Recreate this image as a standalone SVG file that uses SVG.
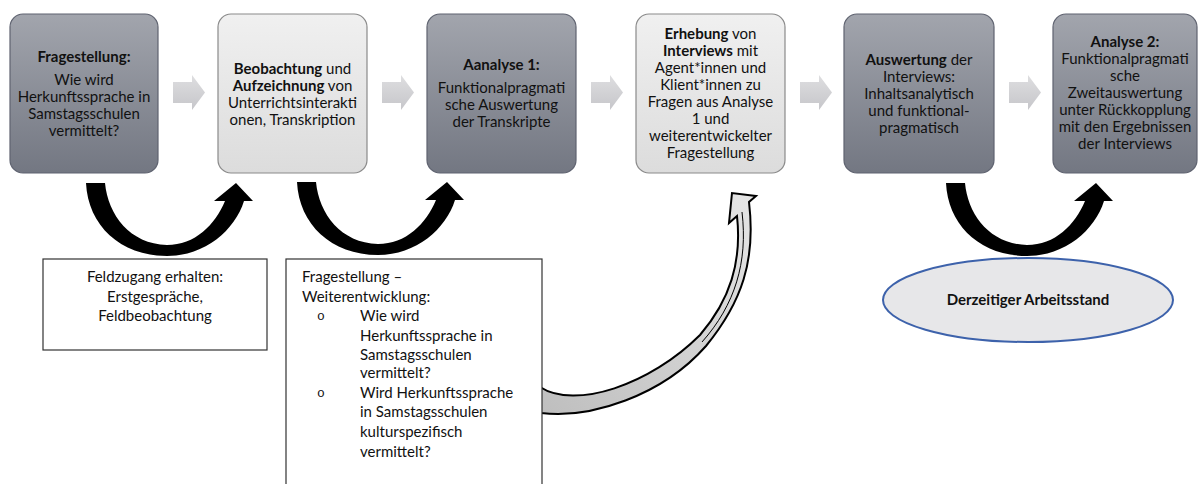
<svg xmlns="http://www.w3.org/2000/svg" xmlns:xlink="http://www.w3.org/1999/xlink" width="1200" height="484" viewBox="0 0 1200 484">
<defs>
<linearGradient id="gDark" x1="0" y1="0" x2="0" y2="1">
<stop offset="0" stop-color="#a2a5ad"/>
<stop offset="1" stop-color="#737782"/>
</linearGradient>
<linearGradient id="gLight" x1="0" y1="0" x2="0" y2="1">
<stop offset="0" stop-color="#f0f0f0"/>
<stop offset="1" stop-color="#dcdcdc"/>
</linearGradient>
<linearGradient id="gChev" x1="0" y1="0" x2="0" y2="1">
<stop offset="0" stop-color="#dedee0"/>
<stop offset="1" stop-color="#c6c6ca"/>
</linearGradient>
<linearGradient id="gCurve" x1="0" y1="1" x2="1" y2="0">
<stop offset="0" stop-color="#bdbdbd"/>
<stop offset="1" stop-color="#e6e6e6"/>
</linearGradient>
<path id="blackArrow" d="M86,183 L105,183 C108,215 130,244 167,245 C195,245 215,225 225,201 L214,201 L236,183 L253,201 L244,201 C235,230 205,256 167,256 C120,256 88,225 86,183 Z"/>
<path id="chev" d="M0,7 H19 V0 L32,17.5 L19,35 V28 H0 Z"/>
</defs>
<style>
.dark{fill:url(#gDark);stroke:#5f6370;stroke-width:1.2}
.light{fill:url(#gLight);stroke:#8a8a8a;stroke-width:1.2}
.t{font-family:Lato,"Liberation Sans",sans-serif;font-size:15px;fill:#111;text-anchor:middle}
.tl{font-family:Lato,"Liberation Sans",sans-serif;font-size:15px;fill:#111}
.b{font-weight:bold}
.bul{font-family:"Liberation Mono",monospace;font-size:13px;fill:#111}
.box{fill:#fff;stroke:#333;stroke-width:1.2}
.chev{fill:url(#gChev)}
.barrow{fill:#000}
</style>
<rect width="1200" height="484" fill="#fff"/>

<g id="connectors">
<use href="#chev" class="chev" transform="translate(173,75)"/>
<use href="#chev" class="chev" transform="translate(382,75)"/>
<use href="#chev" class="chev" transform="translate(591,75)"/>
<use href="#chev" class="chev" transform="translate(800,75)"/>
<use href="#chev" class="chev" transform="translate(1009,75)"/>
<use href="#blackArrow" class="barrow"/>
<use href="#blackArrow" class="barrow" transform="translate(211,-1)"/>
<use href="#blackArrow" class="barrow" transform="translate(860,0)"/>
<path d="M527,401 L540,387 C575,410 650,385 700,335 C730,300 742,262 737,216 L729,223 L732,193 L756,196 L749,202 C756,260 742,302 706,346 C662,396 590,419 541,413 Z" fill="url(#gCurve)" stroke="#000" stroke-width="2" stroke-linejoin="miter"/>
<path d="M742,212 C748,262 735,305 702,342" fill="none" stroke="#000" stroke-width="1"/>
</g>

<g id="node1">
<rect x="10" y="14" width="148" height="159" rx="13" class="dark"/>
<text class="t b" x="84" y="62">Fragestellung:</text>
<text class="t" x="84" y="85">Wie wird</text>
<text class="t" x="84" y="102">Herkunftssprache in</text>
<text class="t" x="84" y="119">Samstagsschulen</text>
<text class="t" x="84" y="136">vermittelt?</text>
</g>

<g id="node2">
<rect x="218" y="14" width="149" height="159" rx="13" class="light"/>
<text class="t" x="292.5" y="74"><tspan class="b">Beobachtung</tspan> und</text>
<text class="t" x="292.5" y="91"><tspan class="b">Aufzeichnung</tspan> von</text>
<text class="t" x="292.5" y="108">Unterrichtsinterakti</text>
<text class="t" x="292.5" y="125">onen, Transkription</text>
</g>

<g id="node3">
<rect x="427" y="14" width="149" height="159" rx="13" class="dark"/>
<text class="t b" x="501.5" y="70">Aanalyse 1:</text>
<text class="t" x="501.5" y="93">Funktionalpragmati</text>
<text class="t" x="501.5" y="110">sche Auswertung</text>
<text class="t" x="501.5" y="127">der Transkripte</text>
</g>

<g id="node4">
<rect x="636" y="14" width="149" height="159" rx="13" class="light"/>
<text class="t" x="710.5" y="39"><tspan class="b">Erhebung</tspan> von</text>
<text class="t" x="710.5" y="56"><tspan class="b">Interviews</tspan> mit</text>
<text class="t" x="710.5" y="73">Agent*innen und</text>
<text class="t" x="710.5" y="90">Klient*innen zu</text>
<text class="t" x="710.5" y="107">Fragen aus Analyse</text>
<text class="t" x="710.5" y="124">1 und</text>
<text class="t" x="710.5" y="141">weiterentwickelter</text>
<text class="t" x="710.5" y="158">Fragestellung</text>
</g>

<g id="node5">
<rect x="844" y="14" width="150" height="159" rx="13" class="dark"/>
<text class="t" x="919" y="65"><tspan class="b">Auswertung</tspan> der</text>
<text class="t" x="919" y="82">Interviews:</text>
<text class="t" x="919" y="99">Inhaltsanalytisch</text>
<text class="t" x="919" y="116">und funktional-</text>
<text class="t" x="919" y="133">pragmatisch</text>
</g>

<g id="node6">
<rect x="1053" y="14" width="144" height="159" rx="13" class="dark"/>
<text class="t b" x="1125" y="47">Analyse 2:</text>
<text class="t" x="1125" y="64">Funktionalpragmati</text>
<text class="t" x="1125" y="81">sche</text>
<text class="t" x="1125" y="98">Zweitauswertung</text>
<text class="t" x="1125" y="115">unter Rückkopplung</text>
<text class="t" x="1125" y="132">mit den Ergebnissen</text>
<text class="t" x="1125" y="149">der Interviews</text>
</g>

<g id="node7">
<rect x="43" y="259" width="224" height="91" class="box"/>
<text class="t" x="155" y="282">Feldzugang erhalten:</text>
<text class="t" x="155" y="302">Erstgespräche,</text>
<text class="t" x="155" y="321">Feldbeobachtung</text>
</g>

<g id="node8">
<rect x="286" y="259" width="256" height="240" class="box"/>
<text class="tl" x="302" y="282">Fragestellung –</text>
<text class="tl" x="302" y="302">Weiterentwicklung:</text>
<text class="bul" x="317" y="320">o</text>
<text class="tl" x="360" y="321">Wie wird</text>
<text class="tl" x="360" y="341">Herkunftssprache in</text>
<text class="tl" x="360" y="360">Samstagsschulen</text>
<text class="tl" x="360" y="378">vermittelt?</text>
<text class="bul" x="317" y="397">o</text>
<text class="tl" x="360" y="398">Wird Herkunftssprache</text>
<text class="tl" x="360" y="417">in Samstagsschulen</text>
<text class="tl" x="360" y="437">kulturspezifisch</text>
<text class="tl" x="360" y="457">vermittelt?</text>
</g>

<g id="node9">
<ellipse cx="1028" cy="300" rx="145" ry="42" fill="#e7e7e9" stroke="#3d62ab" stroke-width="2"/>
<text class="t b" x="1028" y="305">Derzeitiger Arbeitsstand</text>
</g>
</svg>
